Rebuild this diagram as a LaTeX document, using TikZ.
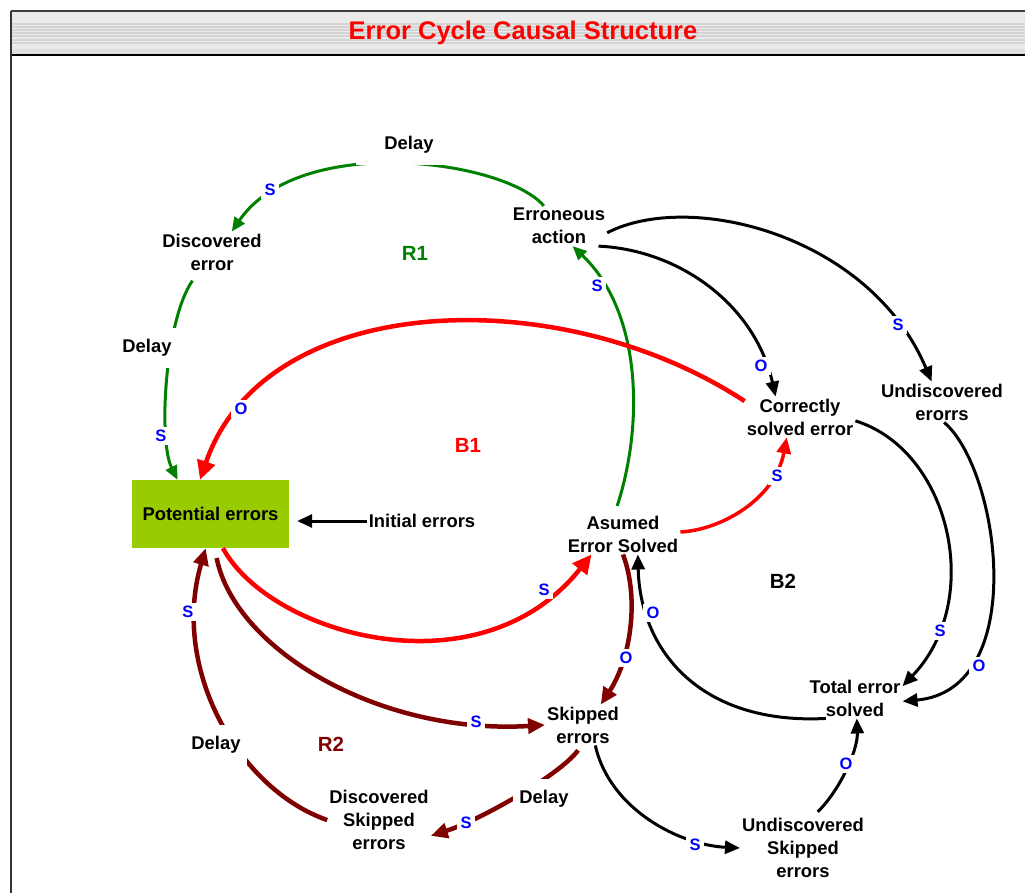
\documentclass[tikz,border=0pt]{standalone}
\usepackage{fontspec}
\setmainfont{Liberation Sans}
\usetikzlibrary{arrows.meta}

\definecolor{lgreen}{RGB}{0,128,0}
\definecolor{dred}{RGB}{128,0,0}
\definecolor{polblue}{RGB}{0,0,255}
\definecolor{boxgreen}{RGB}{153,204,0}
\definecolor{barfill}{RGB}{234,234,234}
\definecolor{barstripe}{RGB}{212,212,212}

\tikzset{
  var/.style={font=\bfseries\fontsize{18.4}{23}\selectfont, align=center, inner sep=2pt},
  pol/.style={font=\bfseries\fontsize{16.5}{17}\selectfont, text=polblue, fill=white, inner sep=3.5pt},
  dly/.style={font=\bfseries\fontsize{18.4}{20}\selectfont, fill=white, inner xsep=6pt, inner ysep=11pt},
  loopname/.style={font=\bfseries\fontsize{20.5}{22}\selectfont},
  gline/.style={draw=lgreen, line width=3pt, -{Triangle[length=14pt,width=12pt]}},
  kline/.style={draw=black, line width=3pt, -{Triangle[length=15pt,width=13pt]}},
  rline/.style={draw=red, line width=4.5pt, -{Triangle[length=19pt,width=18pt]}},
  rthin/.style={draw=red, line width=3.5pt, -{Triangle[length=16pt,width=14pt]}},
  dline/.style={draw=dred, line width=4.5pt, -{Triangle[length=17pt,width=15pt]}}
}

\begin{document}
\begin{tikzpicture}[x=1pt,y=-1pt]
\useasboundingbox (0,0) rectangle (1025,893);
\fill[white] (0,0) rectangle (1025,893);

% title bar
\fill[barfill] (11,11) rectangle (1035,55);
\foreach \yy in {24,27,30,33,36,40,43}
  \draw[barstripe, line width=1.2pt] (11,\yy) -- (1035,\yy);
\fill[black!12] (11,49) rectangle (1035,55);
\draw[black!75, line width=1.5pt] (11,11) -- (1035,11);
\draw[black, line width=2pt] (11,55) -- (1035,55);
\draw[black!80, line width=1.5pt] (11,11) -- (11,900);
\node[font=\bfseries\fontsize{25.5}{27}\selectfont, text=red] (title) at (523,33) {Error Cycle Causal Structure};

% variables
\node[var] (disc)    at (212,252) {Discovered\\error};
\node[var] (errAct)  at (559,226) {Erroneous\\action};
\node[var, fill=boxgreen, minimum width=157pt, minimum height=68pt, inner sep=0pt] (pot) at (210.5,514) {Potential errors};
\node[var] (init)    at (422,521) {Initial errors};
\node[var] (corr)    at (800,417) {Correctly\\solved error};
\node[var] (undErr)  at (942,402) {Undiscovered\\erorrs};
\node[var] (asumed)  at (623,534) {Asumed\\Error Solved};
\node[var] (total)   at (855,698) {Total error\\solved};
\node[var] (skipped) at (583,725) {Skipped\\errors};
\node[var] (discSk)  at (379,820) {Discovered\\Skipped\\errors};
\node[var] (undSk)   at (803,848) {Undiscovered\\Skipped\\errors};

% loop names
\node[loopname, text=lgreen] (R1) at (415,253) {R1};
\node[loopname, text=red]    (B1) at (468,445) {B1};
\node[loopname, text=black]  (B2) at (783,581) {B2};
\node[loopname, text=dred]   (R2) at (331,744) {R2};

% green links
\draw[gline] (errAct.127) .. controls (505,160) and (300,132) .. (disc.46);
\draw[gline, shorten <=10pt] (disc.236) .. controls (165,320) and (158,440) .. (pot.134);
\draw[gline, shorten <=8pt] (asumed.112) .. controls (645,420) and (640,310) .. (errAct.-56);

% black links
\draw[kline] (errAct.-8) .. controls (690,190) and (870,235) .. (undErr.117);
\draw[kline] (errAct.-27) .. controls (680,250) and (755,305) .. (corr.140);
\draw[kline] (corr.-4) .. controls (950,450) and (985,600) .. (total.14);
\draw[kline] (undErr.-84) .. controls (1000,470) and (1030,690) .. (total.-4);
\draw[kline] (total.-145) .. controls (700,725) and (640,650) .. (asumed.-54);
\draw[kline] (skipped.-59) .. controls (610,810) and (680,845) .. (undSk.180);
\draw[kline, shorten <=6pt] (undSk.72) .. controls (840,790) and (858,750) .. (total.-85);
\draw[kline, shorten >=8pt] (init.west) -- (init.west -| pot.east);

% dark red links
\draw[dline] (asumed.-90) .. controls (640,600) and (630,660) .. (skipped.49);
\draw[dline, shorten <=10pt] (pot.-83) .. controls (235,650) and (380,735) .. (skipped.180);
\draw[dline, shorten <=6pt] (skipped.-94) .. controls (560,775) and (480,820) .. (discSk.-17);
\draw[dline] (discSk.180) .. controls (240,790) and (170,670) .. (pot.-98);

% red links
\draw[rline] (corr.164) .. controls (560,280) and (265,290) .. (pot.107);
\draw[rline] (pot.-70) .. controls (270,635) and (480,695) .. (asumed.213);
\draw[rthin] (asumed.2) .. controls (720,530) and (775,500) .. (corr.-123);

% delay marks
\node[dly, inner xsep=28pt] (dTop) at (409,145) {Delay};
\node[dly] (dLeft) at (147,348) {Delay};
\node[dly] (dBL)   at (216,745) {Delay};
\node[dly] (dBM)   at (544,799) {Delay};

% polarities
\node[pol] (p1)  at (270,190) {S};
\node[pol] (p2)  at (161,436) {S};
\node[pol] (p3)  at (241,409) {O};
\node[pol] (p4)  at (597,286) {S};
\node[pol] (p5)  at (761,366) {O};
\node[pol] (p6)  at (898,325) {S};
\node[pol] (p7)  at (777,476) {S};
\node[pol] (p8)  at (544,590) {S};
\node[pol] (p9)  at (653,613) {O};
\node[pol] (p10) at (626,658) {O};
\node[pol] (p11) at (940,631) {S};
\node[pol] (p12) at (979,666) {O};
\node[pol] (p13) at (188,612) {S};
\node[pol] (p14) at (476,722) {S};
\node[pol] (p15) at (846,764) {O};
\node[pol] (p16) at (466,823) {S};
\node[pol] (p17) at (695,845) {S};
\end{tikzpicture}
\end{document}
